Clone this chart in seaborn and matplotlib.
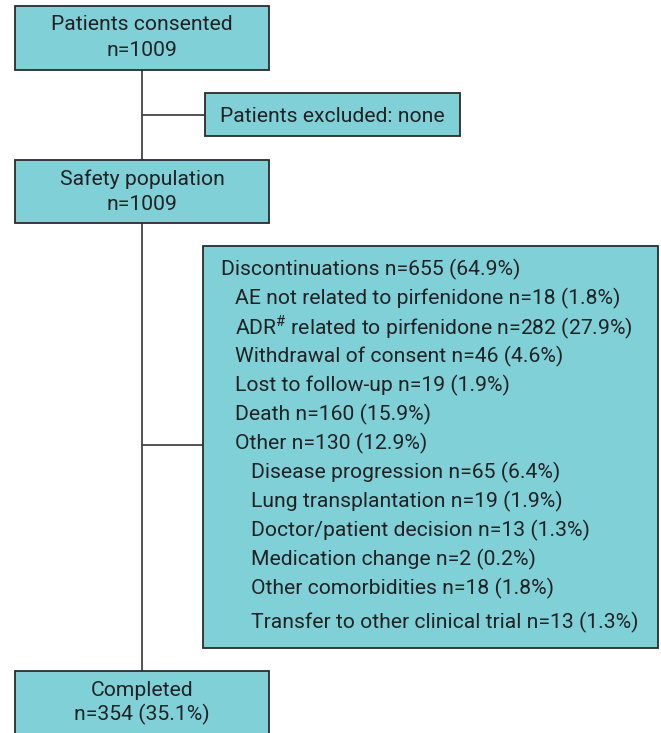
import matplotlib
matplotlib.use("Agg")
import matplotlib.pyplot as plt
import seaborn as sns
from matplotlib.patches import Rectangle

sns.set_theme(style="white")
plt.rcParams["font.family"] = ["Roboto", "DejaVu Sans"]
plt.rcParams["mathtext.fontset"] = "custom"
plt.rcParams["mathtext.rm"] = "Roboto"

FILL = "#80d0d8"
EDGE = "#2b2b2b"
LINE = "#444444"
TXT = "#222222"

# main column boxes: (label lines)
consented = ["Patients consented", "n=1009"]
excluded = "Patients excluded: none"
safety = ["Safety population", "n=1009"]
completed = ["Completed", "n=354 (35.1%)"]

# discontinuation breakdown: (text, indent level)
disc_labels = [
    "Discontinuations n=655 (64.9%)",
    "AE not related to pirfenidone n=18 (1.8%)",
    "ADR$^{\\mathrm{\\#}}$ related to pirfenidone n=282 (27.9%)",
    "Withdrawal of consent n=46 (4.6%)",
    "Lost to follow-up n=19 (1.9%)",
    "Death n=160 (15.9%)",
    "Other n=130 (12.9%)",
    "Disease progression n=65 (6.4%)",
    "Lung transplantation n=19 (1.9%)",
    "Doctor/patient decision n=13 (1.3%)",
    "Medication change n=2 (0.2%)",
    "Other comorbidities n=18 (1.8%)",
    "Transfer to other clinical trial n=13 (1.3%)",
]
disc_level = [0, 1, 1, 1, 1, 1, 1, 2, 2, 2, 2, 2, 2]
disc_y = [269, 298, 328, 356, 385, 414, 443, 472, 501, 530, 559, 588, 622]

fig = plt.figure(figsize=(6.61, 7.33), dpi=100)
ax = fig.add_axes([0, 0, 1, 1])
ax.set_xlim(0, 661)
ax.set_ylim(733, 0)
ax.axis("off")

def box(x0, y0, x1, y1):
    ax.add_patch(Rectangle((x0, y0), x1 - x0, y1 - y0, facecolor=FILL,
                           edgecolor=EDGE, linewidth=1.3, zorder=2))

fs = 15.2
# connectors
ax.plot([142, 142], [70, 733], color=LINE, lw=1.3, zorder=1)
ax.plot([142, 205], [115, 115], color=LINE, lw=1.3, zorder=1)
ax.plot([142, 203], [445, 445], color=LINE, lw=1.3, zorder=1)

box(15, 6, 269, 70)
for i, t in enumerate(consented):
    ax.text(142, 25 + i * 25, t, ha="center", va="center", fontsize=fs, color=TXT, zorder=3)

box(205, 93, 460, 136)
ax.text(332, 116, excluded, ha="center", va="center", fontsize=fs, color=TXT, zorder=3)

box(15, 160, 269, 223)
for i, t in enumerate(safety):
    ax.text(142, 179 + i * 25, t, ha="center", va="center", fontsize=fs, color=TXT, zorder=3)

box(203, 246, 658, 648)
indent = [221, 235, 251]
for t, lvl, y in zip(disc_labels, disc_level, disc_y):
    ax.text(indent[lvl], y, t, ha="left", va="center", fontsize=fs, color=TXT, zorder=3)

box(15, 671, 269, 745)
for i, t in enumerate(completed):
    ax.text(142, 690 + i * 24, t, ha="center", va="center", fontsize=fs, color=TXT, zorder=3)

fig.savefig("out.png", dpi=100)
